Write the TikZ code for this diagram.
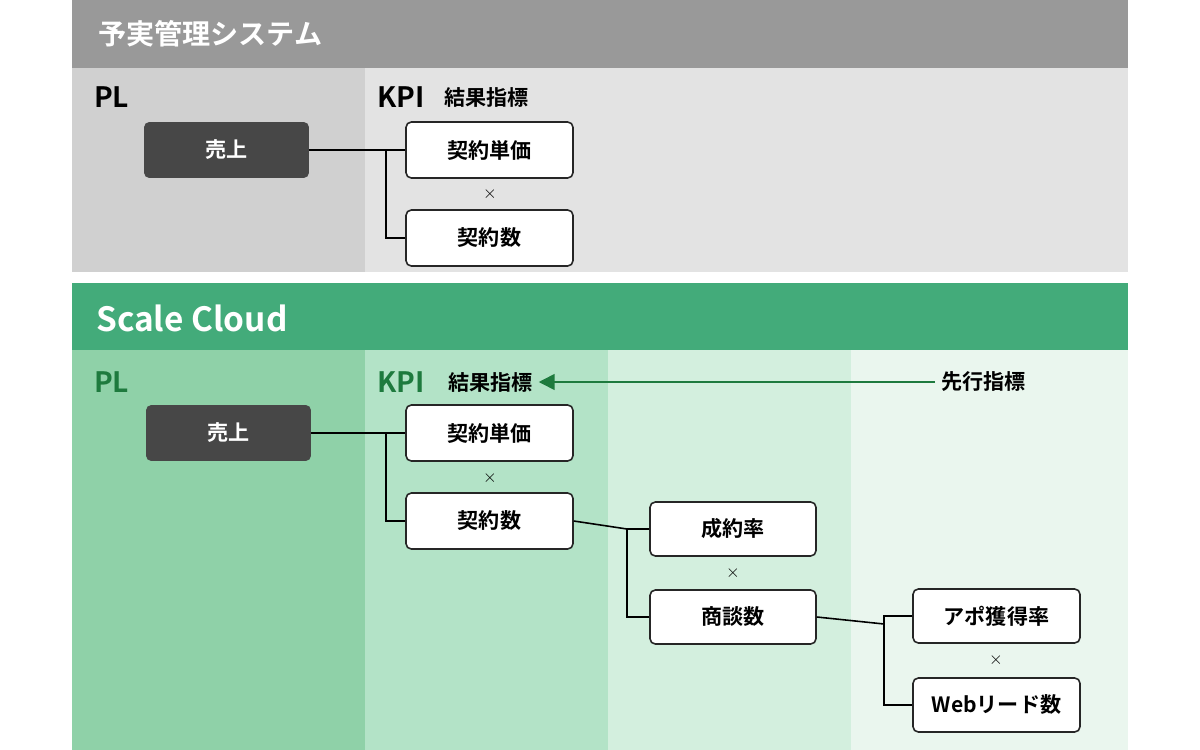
\documentclass[tikz,border=0pt]{standalone}
\usepackage{fontspec}
\setmainfont{Noto Sans CJK JP}[BoldFont={* Bold}]
\usetikzlibrary{arrows.meta}
\definecolor{hdgray}{HTML}{999999}
\definecolor{plgray}{HTML}{D0D0D0}
\definecolor{kpigray}{HTML}{E3E3E3}
\definecolor{hdgreen}{HTML}{43AB7A}
\definecolor{g1}{HTML}{8FD1A8}
\definecolor{g2}{HTML}{B3E3C7}
\definecolor{g3}{HTML}{D3EFDE}
\definecolor{g4}{HTML}{EAF6EE}
\definecolor{dk}{HTML}{474747}
\definecolor{dgreen}{HTML}{1E7A3E}
\begin{document}
\begin{tikzpicture}[x=0.02cm,y=-0.02cm,
 box/.style={draw=black!85,line width=0.9pt,rounded corners=3pt,fill=white,font=\bfseries\fontsize{12}{14}\selectfont},
 dbox/.style={fill=dk,rounded corners=3pt,text=white,font=\bfseries\fontsize{12}{14}\selectfont},
 lab/.style={font=\bfseries\fontsize{16}{18}\selectfont,anchor=west},
 sub/.style={font=\bfseries\fontsize{12}{14}\selectfont,anchor=west},
 ln/.style={line width=0.9pt}]
\useasboundingbox (0,0) rectangle (1200,750);
% top
\fill[hdgray] (72,0) rectangle (1128,68);
\fill[plgray] (72,68) rectangle (365,272);
\fill[kpigray] (365,68) rectangle (1128,272);
\node[anchor=west,text=white,font=\bfseries\fontsize{16}{18}\selectfont] (t1) at (92,34) {予実管理システム};
\node[lab] (pl1) at (88,97) {PL};
\node[lab] (kpi1) at (371,97) {KPI};
\node[sub] (r1) at (438,97) {結果指標};
\path (144,122) coordinate (a) (309,178) coordinate (b);
\node[dbox,minimum width=3.3cm,minimum height=1.12cm] (u1) at (226.5,150) {売上};
\node[box,minimum width=3.34cm,minimum height=1.12cm] (k1) at (489.5,150) {契約単価};
\node[box,minimum width=3.34cm,minimum height=1.12cm] (s1) at (489.5,238) {契約数};
\node (x1) at (490,194) {$\times$};
\draw[ln] (u1.east) -- (k1.west);
\draw[ln] (386,150) |- (s1.west);
% bottom
\fill[hdgreen] (72,283) rectangle (1128,350);
\fill[g1] (72,350) rectangle (365,750);
\fill[g2] (365,350) rectangle (608,750);
\fill[g3] (608,350) rectangle (851,750);
\fill[g4] (851,350) rectangle (1128,750);
\node[anchor=west,text=white,font=\bfseries\fontsize{19}{22}\selectfont] (t2) at (90,318) {Scale Cloud};
\node[lab,text=dgreen] (pl2) at (88,382) {PL};
\node[lab,text=dgreen] (kpi2) at (371,382) {KPI};
\node[sub] (r2) at (442,382) {結果指標};
\node[sub] (p2) at (935,382) {先行指標};
\draw[ln,dgreen,-{Triangle[length=9pt,width=9pt]}] (p2.west) -- (r2.east);
\node[dbox,minimum width=3.3cm,minimum height=1.12cm] (u2) at (228.5,433) {売上};
\node[box,minimum width=3.34cm,minimum height=1.12cm] (k2) at (489.5,433) {契約単価};
\node[box,minimum width=3.34cm,minimum height=1.12cm] (s2) at (489.5,521) {契約数};
\node (x2) at (490,478) {$\times$};
\node[box,minimum width=3.32cm,minimum height=1.08cm] (c2) at (733,529) {成約率};
\node (x3) at (733,573) {$\times$};
\node[box,minimum width=3.32cm,minimum height=1.08cm] (n2) at (733,617) {商談数};
\node[box,minimum width=3.34cm,minimum height=1.08cm] (a2) at (996.5,616) {アポ獲得率};
\node (x4) at (996,660) {$\times$};
\node[box,minimum width=3.34cm,minimum height=1.08cm] (w2) at (996.5,705) {Webリード数};
\draw[ln] (u2.east) -- (k2.west);
\draw[ln] (386,433) |- (s2.west);
\draw[ln] (s2.east) -- (627,529) -- (c2.west);
\draw[ln] (627,529) |- (n2.west);
\draw[ln] (n2.east) -- (884,624) |- (a2.west);
\draw[ln] (884,616) |- (w2.west);
\end{tikzpicture}
\end{document}
